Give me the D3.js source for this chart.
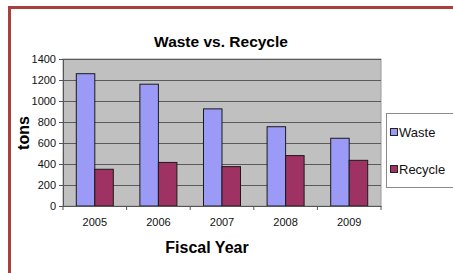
<!DOCTYPE html>
<html>
<head>
<meta charset="utf-8">
<script src="https://cdn.jsdelivr.net/npm/d3@7"></script>
<style>
  body { margin: 0; background: #fff; }
  svg { display: block; font-family: Arial, "Liberation Sans", sans-serif; }
</style>
</head>
<body>
<svg id="chart" width="453" height="273"></svg>
<script>
// Waste vs. Recycle, tons per fiscal year
const years = ["2005", "2006", "2007", "2008", "2009"];
const seriesNames = ["Waste", "Recycle"];
const waste = [1260, 1160, 925, 755, 645];
const recycle = [350, 415, 375, 480, 435];
const yTicks = [0, 200, 400, 600, 800, 1000, 1200, 1400];

const colors = { Waste: "#9b9bf7", Recycle: "#9e3262" };

const svg = d3.select("#chart");
const plot = { left: 63, right: 381, top: 59, bottom: 206 };

// outer frame
svg.append("path")
  .attr("d", "M9.5,273 V7.5 H453")
  .attr("fill", "none")
  .attr("stroke", "#ab3f3c")
  .attr("stroke-width", 3);

const x = d3.scaleBand().domain(years).range([plot.left, plot.right]);
const xSeries = d3.scaleBand().domain(seriesNames)
  .range([0, 37]);
const y = d3.scaleLinear().domain([0, 1400]).range([plot.bottom, plot.top]);

// plot background
svg.append("rect")
  .attr("x", plot.left).attr("y", plot.top)
  .attr("width", plot.right - plot.left).attr("height", plot.bottom - plot.top)
  .attr("fill", "#c0c0c0")
  .attr("stroke", "#9a9a9a");

// gridlines
svg.append("g")
  .selectAll("line")
  .data(yTicks.slice(1))
  .join("line")
  .attr("x1", plot.left).attr("x2", plot.right)
  .attr("y1", d => Math.round(y(d)) + 0.5).attr("y2", d => Math.round(y(d)) + 0.5)
  .attr("stroke", "#5a5a5a");

// bars
const rows = years.map((yr, i) => ({ year: yr, Waste: waste[i], Recycle: recycle[i] }));
const offset = (x.bandwidth() - 37) / 2;
svg.append("g")
  .selectAll("g")
  .data(rows)
  .join("g")
  .attr("transform", d => `translate(${x(d.year) + offset},0)`)
  .selectAll("rect")
  .data(d => seriesNames.map(s => ({ key: s, value: d[s] })))
  .join("rect")
  .attr("x", d => xSeries(d.key))
  .attr("y", d => y(d.value))
  .attr("width", xSeries.bandwidth())
  .attr("height", d => y(0) - y(d.value))
  .attr("fill", d => colors[d.key])
  .attr("stroke", "#1a1a1a")
  .attr("stroke-width", 1);

// y axis
const yAxis = svg.append("g")
  .attr("transform", `translate(${plot.left},0)`)
  .call(d3.axisLeft(y).tickValues(yTicks).tickFormat(d3.format("d")).tickSize(4).tickPadding(3));
yAxis.select(".domain").attr("stroke", "#555");
yAxis.selectAll(".tick line").attr("stroke", "#555");
yAxis.selectAll("text").attr("font-size", 11).attr("fill", "#111");

// x axis
const xAxis = svg.append("g")
  .attr("transform", `translate(0,${plot.bottom})`)
  .call(d3.axisBottom(x).tickSize(0).tickPadding(12));
xAxis.select(".domain").attr("stroke", "#555");
xAxis.selectAll("text").attr("font-size", 11).attr("fill", "#111");
svg.append("g")
  .selectAll("line")
  .data(years.concat(["end"]))
  .join("line")
  .attr("x1", (d, i) => plot.left + i * x.step())
  .attr("x2", (d, i) => plot.left + i * x.step())
  .attr("y1", plot.bottom).attr("y2", plot.bottom + 4)
  .attr("stroke", "#555");

// titles
svg.append("text")
  .attr("x", 221).attr("y", 47)
  .attr("text-anchor", "middle")
  .attr("font-size", 15.5).attr("font-weight", "bold")
  .text("Waste vs. Recycle");

svg.append("text")
  .attr("x", 207).attr("y", 253)
  .attr("text-anchor", "middle")
  .attr("font-size", 16).attr("font-weight", "bold")
  .text("Fiscal Year");

svg.append("text")
  .attr("transform", "translate(29,133) rotate(-90)")
  .attr("text-anchor", "middle")
  .attr("font-size", 16).attr("font-weight", "bold")
  .text("tons");

// legend
const legend = svg.append("g");
legend.append("rect")
  .attr("x", 386.5).attr("y", 113.5)
  .attr("width", 80).attr("height", 74)
  .attr("fill", "#fff")
  .attr("stroke", "#8a8a8a");
const li = legend.selectAll("g")
  .data(seriesNames)
  .join("g")
  .attr("transform", (d, i) => `translate(390,${132 + i * 37})`);
li.append("rect")
  .attr("x", 0.5).attr("y", -3.5)
  .attr("width", 7).attr("height", 7)
  .attr("fill", d => colors[d])
  .attr("stroke", "#222");
li.append("text")
  .attr("x", 9).attr("y", 4.5)
  .attr("font-size", 13)
  .attr("fill", "#111")
  .text(d => d);
</script>
</body>
</html>
